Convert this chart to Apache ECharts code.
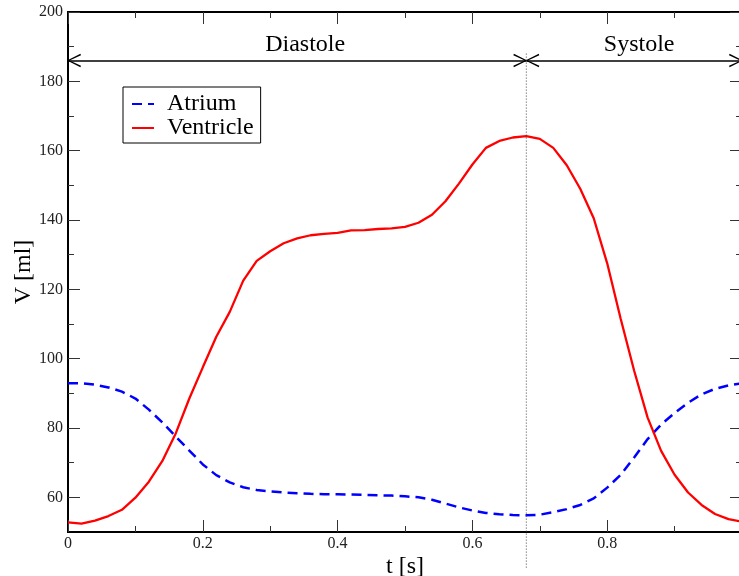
<!DOCTYPE html>
<html>
<head>
<meta charset="utf-8">
<script src="https://cdn.jsdelivr.net/npm/echarts@6/dist/echarts.min.js"></script>
<style>
  html, body { margin: 0; padding: 0; background: #fff; }
  #main { width: 739px; height: 576px; }
</style>
</head>
<body>
<div id="main"></div>
<script>
// time samples [s]
const times = [0, 0.02, 0.04, 0.06, 0.08, 0.10, 0.12, 0.14, 0.16, 0.18,
  0.20, 0.22, 0.24, 0.26, 0.28, 0.30, 0.32, 0.34, 0.36, 0.38,
  0.40, 0.42, 0.44, 0.46, 0.48, 0.50, 0.52, 0.54, 0.56, 0.58,
  0.60, 0.62, 0.64, 0.66, 0.68, 0.70, 0.72, 0.74, 0.76, 0.78,
  0.80, 0.82, 0.84, 0.86, 0.88, 0.90, 0.92, 0.94, 0.96, 0.98, 1.00];

// volumes [ml]
const atrium = [92.9, 92.9, 92.5, 91.7, 90.5, 88.5, 85.3, 81.6, 77.5, 73.5,
  69.5, 66.4, 64.3, 62.9, 62.1, 61.7, 61.4, 61.2, 61.0, 60.9,
  60.9, 60.8, 60.7, 60.6, 60.5, 60.3, 60.0, 59.3, 58.2, 57.1,
  56.2, 55.5, 55.1, 54.9, 54.8, 55.0, 55.7, 56.6, 57.8, 59.7,
  62.8, 66.5, 71.5, 76.8, 81.0, 84.3, 87.3, 89.7, 91.3, 92.3, 92.9];

const ventricle = [52.8, 52.4, 53.3, 54.6, 56.4, 59.9, 64.5, 70.5, 78.5, 88.5,
  97.5, 106.3, 113.5, 122.5, 128.2, 131.0, 133.3, 134.7, 135.6, 136.0,
  136.3, 137.0, 137.1, 137.4, 137.6, 138.0, 139.2, 141.5, 145.4, 150.5,
  156.0, 160.8, 162.8, 163.8, 164.2, 163.4, 160.8, 155.8, 149.0, 140.5,
  127.5, 111.5, 96.5, 83.0, 73.4, 66.5, 61.4, 57.8, 55.2, 53.7, 53.0];

const yMajor = [60, 80, 100, 120, 140, 160, 180, 200];
const yMinor = [70, 90, 110, 130, 150, 170, 190];

const phaseSplit = 0.68;   // end of diastole [s]
const arrowLevel = 186;    // height of the phase arrows [ml]
const phaseNames = ['Diastole', 'Systole'];

const serif = '"Liberation Serif", "DejaVu Serif", serif';

// open arrow head, tip at the centre of the bounding box
const chevron = 'path://M-13,-13 L-13,-13 Z M13,13 L13,13 Z ' +
  'M0,-0.8 L6.7,12.7 L5.3,13.3 L0,1.8 L-5.3,13.3 L-6.7,12.7 Z';

const chart = echarts.init(document.getElementById('main'));

function xAxisCfg(pos) {
  return {
    type: 'value', position: pos, min: 0, max: 1, interval: 0.2,
    axisLine: { show: true, onZero: false, lineStyle: { color: '#000', width: 2 } },
    axisTick: { show: true, inside: true, length: 12, lineStyle: { color: '#333', width: 1 } },
    minorTick: { show: true, splitNumber: 2, length: 6, lineStyle: { color: '#333', width: 1 } },
    splitLine: { show: false },
    axisLabel: pos === 'bottom' ? {
      fontFamily: serif, fontSize: 16, color: '#222', margin: 4,
      formatter: v => (v >= 1 ? '' : String(+v.toFixed(1)))
    } : { show: false },
    name: pos === 'bottom' ? 't [s]' : '',
    nameLocation: 'middle', nameGap: 23, nameMoveOverlap: false,
    nameTextStyle: { fontFamily: serif, fontSize: 24, color: '#000' }
  };
}

function yAxisCfg(pos, ticks, len, labels) {
  return {
    type: 'value', position: pos, min: 50, max: 200,
    axisLine: { show: true, onZero: false, lineStyle: { color: '#000', width: 2 } },
    axisTick: { show: true, inside: true, length: len, customValues: ticks, lineStyle: { color: '#333', width: 1 } },
    splitLine: { show: false },
    axisLabel: labels ? {
      fontFamily: serif, fontSize: 16, color: '#222', margin: 5, customValues: ticks
    } : { show: false },
    name: labels ? 'V [ml]' : '',
    nameLocation: 'middle', nameGap: 32, nameMoveOverlap: false,
    nameTextStyle: { fontFamily: serif, fontSize: 24, color: '#000' }
  };
}

const arrowLabel = {
  show: true, position: 'middle', distance: 4,
  fontFamily: serif, fontSize: 24, color: '#000'
};

chart.setOption({
  animation: false,
  backgroundColor: '#fff',
  grid: { left: 68, top: 12, width: 674, height: 520, outerBoundsMode: 'none' },
  xAxis: [xAxisCfg('bottom'), xAxisCfg('top')],
  yAxis: [
    yAxisCfg('left', yMajor, 12, true),
    yAxisCfg('left', yMinor, 6, false),
    yAxisCfg('right', yMajor, 12, false),
    yAxisCfg('right', yMinor, 6, false)
  ],
  legend: {
    orient: 'vertical', left: 123, top: 87,
    backgroundColor: '#fff', borderColor: '#000', borderWidth: 1, borderRadius: 0,
    padding: [5, 7, 3, 8], itemGap: 0, itemWidth: 22, itemHeight: 14,
    itemStyle: { color: 'rgba(0,0,0,0)', borderColor: 'rgba(0,0,0,0)', borderWidth: 0 },
    textStyle: { fontFamily: serif, fontSize: 24, color: '#000', lineHeight: 22, padding: [0, 0, 0, 8] },
    data: ['Atrium', 'Ventricle']
  },
  series: [
    {
      name: 'Atrium', type: 'line', showSymbol: false, symbol: 'none',
      data: times.map((t, i) => [t, atrium[i]]),
      lineStyle: { color: '#0000ff', width: 2.5, type: [10, 6] },
      itemStyle: { color: '#0000ff' }
    },
    {
      name: 'Ventricle', type: 'line', showSymbol: false, symbol: 'none',
      data: times.map((t, i) => [t, ventricle[i]]),
      lineStyle: { color: '#ff0000', width: 2.3 },
      itemStyle: { color: '#ff0000' },
      markLine: {
        silent: true,
        symbol: [chevron, chevron],
        symbolSize: 26,
        lineStyle: { color: '#000', width: 1.5, type: 'solid' },
        emphasis: { disabled: true },
        data: [
          [{ coord: [0, arrowLevel], label: Object.assign({ formatter: phaseNames[0], padding: [0, 0, 0, 16] }, arrowLabel) },
           { coord: [phaseSplit, arrowLevel] }],
          [{ coord: [phaseSplit, arrowLevel], label: Object.assign({ formatter: phaseNames[1], padding: [0, 0, 0, 10] }, arrowLabel) },
           { coord: [1, arrowLevel] }]
        ]
      }
    }
  ]
});

// dotted separator between the phases, running past the bottom axis
const sepX = chart.convertToPixel({ xAxisIndex: 0 }, phaseSplit);
const sepTop = chart.convertToPixel({ yAxisIndex: 0 }, arrowLevel + 2);
chart.setOption({
  graphic: [{
    type: 'line', silent: true, z: 5,
    shape: { x1: sepX, y1: sepTop, x2: sepX, y2: 568 },
    style: { stroke: '#444', lineWidth: 1, lineDash: [1, 2] }
  }]
});
</script>
</body>
</html>
